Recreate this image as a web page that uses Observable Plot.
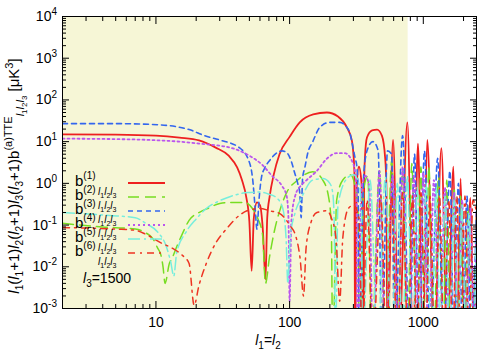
<!DOCTYPE html>
<html><head><meta charset="utf-8">
<script src="https://cdn.jsdelivr.net/npm/d3@7"></script>
<script src="https://cdn.jsdelivr.net/npm/@observablehq/plot@0.6"></script>
<style>body{margin:0;background:#fff} svg{font-family:"Liberation Sans",Arial,Helvetica,sans-serif}</style>
</head><body><div id="chart"></div>
<script>
// ---------- data (l, value) ----------
const b1 = [[2,15],[5,14.8],[10,14],[15,12.5],[21,10.7],[28,7.2],[35,4.6],[40.5,2.4],[44,1.2],[47.5,0.45],[50,0.12],[52,0.008],[54,0.15],[57,0.35],[60,0.3],[63,0.08],[66,0.005],[68,0.15],[71,0.5],[76,1.6],[84,5],[100,13],[119,29],[150,45],[190,50],[230,40],[268,22],[292,10.7],[300,5],[305,2],[309,0.0001],[318,1],[330,2.5],[345,1],[357,0.0001],[361,1],[366,4.2],[379,12.6],[414,18.6],[451,19.5],[490,14],[518,4.2],[530,0.8],[538,0.0001],[594,11],[655,0.0001],[760,29],[840,0.0001],[912,9],[990,0.0001],[1070,11],[1210,0.0001],[1365,7],[1510,0.0001],[1680,2.5],[1780,0.0001],[1900,1.3],[2050,0.0001],[2250,0.45],[2400,0.0001],[2500,0.2]];
const b2 = [[2,0.11],[4,0.09],[7,0.08],[8.4,0.065],[9.5,0.047],[10.3,0.028],[10.9,0.019],[11.3,0.01],[11.7,0.004],[12.6,0.012],[13.2,0.016],[14.4,0.032],[15.7,0.06],[17.7,0.13],[21,0.2],[25,0.26],[30,0.33],[38,0.35],[46,0.35],[52.7,0.25],[58,0.14],[62.7,0.06],[66,0.004],[70.7,0.017],[77,0.073],[87,0.3],[95,0.6],[115,1.2],[149,1.9],[177,1.2],[195,0.5],[205,0.1],[210,0.0001],[225,0.4],[250,1.2],[285,1.6],[310,0.8],[325,0.2],[332,0.0001],[360,0.8],[385,1.5],[410,0.0001],[470,2],[520,0.0001],[580,3.5],[640,0.0001],[700,2],[760,0.0001],[820,3],[890,0.0001],[960,2.5],[1030,0.0001],[1100,2.5],[1200,0.0001],[1300,1.5],[1400,0.0001],[1500,1.2],[1600,0.0001],[1700,0.8],[1800,0.0001],[1900,0.5],[2000,0.0001],[2150,0.3],[2300,0.0001],[2500,0.15]];
const b3 = [[2,27],[5,27],[9,26],[14,23],[17.7,19.5],[23,14],[29.8,11],[42,7.2],[50,3.2],[53,1.2],[55,0.3],[57,0.08],[59,0.4],[61.6,1.4],[65,2.3],[70.7,3.5],[81,5.5],[88,6],[95,5.5],[103.5,3.2],[109,1.8],[115,1.0],[119,0.6],[122,0.15],[125,1.3],[130,2.4],[137,5.5],[149,10],[168,22],[200,29],[237,29],[268,22],[283,15.6],[298,7.2],[308,4.2],[319,2.4],[326,0.5],[330,0.0001],[360,2],[385,7],[420,10],[460,6],[490,0.0001],[540,6],[580,5],[610,0.0001],[700,14],[790,0.0001],[860,5],[930,0.0001],[1020,6],[1130,0.0001],[1280,4],[1420,0.0001],[1580,2],[1700,0.0001],[1830,1],[1970,0.0001],[2120,0.5],[2280,0.0001],[2500,0.25]];
const b4 = [[2,11.8],[5,11.5],[8.85,11],[15,10],[21,9],[37,7],[50,4.6],[63,2.7],[74,1.5],[87,0.9],[95,0.5],[98,0.15],[100,0.0015],[103,0.12],[110,0.5],[122,0.9],[134,1.2],[160,2],[190,3.9],[225,5.3],[259,5.3],[292,3.5],[308,2],[316,0.7],[322,0.0001],[345,0.8],[370,1.5],[395,0.8],[420,0.0001],[470,2],[520,0.0001],[590,1.5],[650,0.0001],[700,2.5],[780,0.0001],[850,1.5],[930,0.0001],[1000,1.8],[1100,0.0001],[1200,1.2],[1330,0.0001],[1450,0.8],[1580,0.0001],[1700,0.6],[1820,0.0001],[1950,0.4],[2100,0.0001],[2250,0.25],[2400,0.0001],[2500,0.1]];
const b5 = [[2,0.2],[4.5,0.17],[7,0.15],[8.4,0.11],[10.3,0.068],[11.9,0.032],[12.9,0.013],[13.6,0.006],[14.3,0.022],[16.8,0.068],[20,0.14],[23.8,0.25],[29.8,0.38],[37,0.5],[48,0.6],[60,0.62],[70,0.55],[80,0.45],[88.6,0.26],[94,0.05],[97,0.004],[101,0.05],[110,0.2],[123,0.46],[149,1.2],[177,1.3],[200,1.0],[210,0.6],[216,0.1],[220,0.0001],[230,0.3],[268,1.3],[300,1.6],[330,1.0],[345,0.2],[350,0.0001],[400,1.2],[455,0.0001],[520,1.4],[580,0.0001],[640,1.0],[700,0.0001],[760,1.5],[830,0.0001],[900,0.8],[970,0.0001],[1050,1.0],[1150,0.0001],[1250,0.8],[1350,0.0001],[1450,0.5],[1580,0.0001],[1700,0.4],[1820,0.0001],[1950,0.3],[2080,0.0001],[2200,0.2],[2350,0.0001],[2500,0.1]];
const b6 = [[2,0.087],[5,0.08],[7,0.075],[8.4,0.06],[11,0.037],[13.2,0.028],[15.7,0.019],[17.7,0.012],[19.3,0.0012],[21,0.0036],[23.8,0.012],[28,0.037],[33.6,0.08],[42,0.17],[48,0.22],[60,0.25],[71,0.22],[84,0.19],[100,0.1],[112,0.05],[120,0.015],[127,0.002],[133,0.03],[145,0.12],[160,0.2],[190,0.22],[205,0.15],[222,0.05],[237,0.0015],[250,0.05],[275,0.25],[300,0.3],[330,0.15],[350,0.0001],[380,0.4],[420,0.0001],[480,0.5],[530,0.0001],[580,0.5],[640,0.0001],[700,0.6],[770,0.0001],[830,0.5],[900,0.0001],[960,0.6],[1040,0.0001],[1120,0.5],[1220,0.0001],[1320,0.5],[1430,0.0001],[1550,0.4],[1660,0.0001],[1780,0.5],[1900,0.0001],[2050,0.5],[2200,0.0001],[2350,0.4],[2500,0.2]];
const seriesKeys = ["(1)","(2)","(3)","(4)","(5)","(6)"];
const shadeRange = [[2, 770]];
const xDomain = [2, 2500];
const yDomain = [1e-3, 1e4];
const xMajor = [10, 100, 1000];
const xMinor = [2,3,4,5,6,7,8,9,20,30,40,50,60,70,80,90,200,300,400,500,600,700,800,900,2000];
const yMajor = [1e-3,1e-2,1e-1,1,10,100,1000,10000];
const yExp = ["-3","-2","-1","0","1","2","3","4"];
const yMinor = yMajor.slice(0,-1).flatMap(d => [2,3,4,5,6,7,8,9].map(k => k*d));
const annotation = "1500";

// ---------- styles ----------
const seriesData = [b1,b2,b3,b4,b5,b6];
const styles = [
  {stroke:"#ee2020", dash:null, w:1.8},
  {stroke:"#77dd22", dash:"11,6", w:1.5},
  {stroke:"#3366ee", dash:"5,4", w:1.6},
  {stroke:"#bb55ee", dash:"2,3", w:1.8},
  {stroke:"#77eedd", dash:"12,4,2,4", w:1.5},
  {stroke:"#ee3322", dash:"7,5,2,5", w:1.5}
];

const lineMarks = seriesData.map((data, i) => Plot.line(data, {
  x: p => p[0], y: p => p[1],
  stroke: styles[i].stroke, strokeWidth: styles[i].w,
  strokeDasharray: styles[i].dash || undefined,
  curve: "monotone-x", clip: true
}));

const plot = Plot.plot({
  width: 500, height: 350,
  marginLeft: 62, marginRight: 24, marginTop: 16, marginBottom: 42,
  style: {fontFamily: '"Liberation Sans",Arial,sans-serif', background: "#fff"},
  x: {type: "log", domain: xDomain},
  y: {type: "log", domain: yDomain},
  marks: [
    Plot.rect(shadeRange, {x1: r => r[0], x2: r => r[1], fill: "#f6f6d6"}),
    ...lineMarks,
    Plot.axisX(xMinor, {anchor: "bottom", tickSize: -4, fill: "none", label: null}),
    Plot.axisX(xMinor, {anchor: "top", tickSize: -4, fill: "none", label: null}),
    Plot.axisX(xMajor, {anchor: "bottom", tickSize: -7, fill: "none", label: null}),
    Plot.axisX(xMajor, {anchor: "top", tickSize: -7, fill: "none", label: null}),
    Plot.axisX(xMajor, {anchor: "bottom", tickSize: 0, tickPadding: 9, fontSize: 14, tickFormat: d => String(d), label: null}),
    Plot.axisY(yMinor, {anchor: "left", tickSize: -4, fill: "none", label: null}),
    Plot.axisY(yMinor, {anchor: "right", tickSize: -4, fill: "none", label: null}),
    Plot.axisY(yMajor, {anchor: "left", tickSize: -7, fill: "none", label: null}),
    Plot.axisY(yMajor, {anchor: "right", tickSize: -7, fill: "none", label: null}),
    Plot.frame({stroke: "#000", strokeWidth: 1})
  ]
});
document.getElementById("chart").appendChild(plot);

const svg = d3.select(plot);
const ys = plot.scale("y");

// rich text helper: parts [text, shift, size, italic]
function rich(sel, parts, baseSize) {
  let cur = 0;
  parts.forEach(([t, shift, size, it]) => {
    sel.append("tspan").attr("dy", shift - cur).attr("font-size", size || baseSize)
      .attr("font-style", it ? "italic" : null).text(t);
    cur = shift;
  });
}
const L = (n, s) => [["l", s, null, true], [n, s + 4, 10, false]];

// y tick labels
yMajor.forEach((v, i) => {
  const t = svg.append("text").attr("x", 57).attr("y", ys.apply(v) + 5)
    .attr("text-anchor", "end").attr("font-size", 14).attr("fill", "#000");
  rich(t, [["10", 0], [yExp[i], -6, 10]], 14);
});

// y axis label
{
  const t = svg.append("text").attr("transform", "translate(19,176) rotate(-90)")
    .attr("text-anchor", "middle").attr("font-size", 15).attr("fill", "#000");
  const parts = [
    ...L("1", 0), ["(", 0], ...L("1", 0), ["+1)", 0],
    ...L("2", 0), ["(", 0], ...L("2", 0), ["+1)", 0],
    ...L("3", 0), ["(", 0], ...L("3", 0), ["+1)b", 0],
    ["(a)TTE", -7, 11],
    ["l", 5, 11, true], ["1", 8, 8], ["l", 5, 11, true], ["2", 8, 8], ["l", 5, 11, true], ["3", 8, 8],
    [" [\u03bcK", 0], ["3", -6, 11], ["]", 0]
  ];
  rich(t, parts, 15);
}

// x axis label
{
  const t = svg.append("text").attr("x", 268).attr("y", 345)
    .attr("text-anchor", "middle").attr("font-size", 14).attr("fill", "#000");
  rich(t, [...L("1", 0), ["=", 0], ...L("2", 0)], 14);
}

// l3 = 1500 annotation
{
  const t = svg.append("text").attr("x", 83).attr("y", 283).attr("text-anchor", "start")
    .attr("font-size", 14).attr("fill", "#000");
  rich(t, [...L("3", 0), ["=" + annotation, 0]], 14);
}

// legend
const legY = [183, 197, 211, 225, 239, 253];
seriesKeys.forEach((k, i) => {
  const y = legY[i];
  svg.append("line").attr("x1", 128).attr("x2", 165).attr("y1", y).attr("y2", y)
    .attr("stroke", styles[i].stroke).attr("stroke-width", styles[i].w)
    .attr("stroke-dasharray", styles[i].dash);
  const t = svg.append("text").attr("x", 75).attr("y", y + 3).attr("text-anchor", "start")
    .attr("font-size", 15).attr("fill", "#000");
  rich(t, [["b", 0], [k, -7, 10]], 15);
  const s = svg.append("text").attr("x", 98).attr("y", y + 12).attr("text-anchor", "start")
    .attr("font-size", 10).attr("fill", "#000");
  rich(s, [["l", 0, 10, true], ["1", 3, 7], ["l", -3 + 3 - 0, 10, true], ["2", 3, 7], ["l", 0, 10, true], ["3", 3, 7]], 10);
});
</script>
</body></html>
